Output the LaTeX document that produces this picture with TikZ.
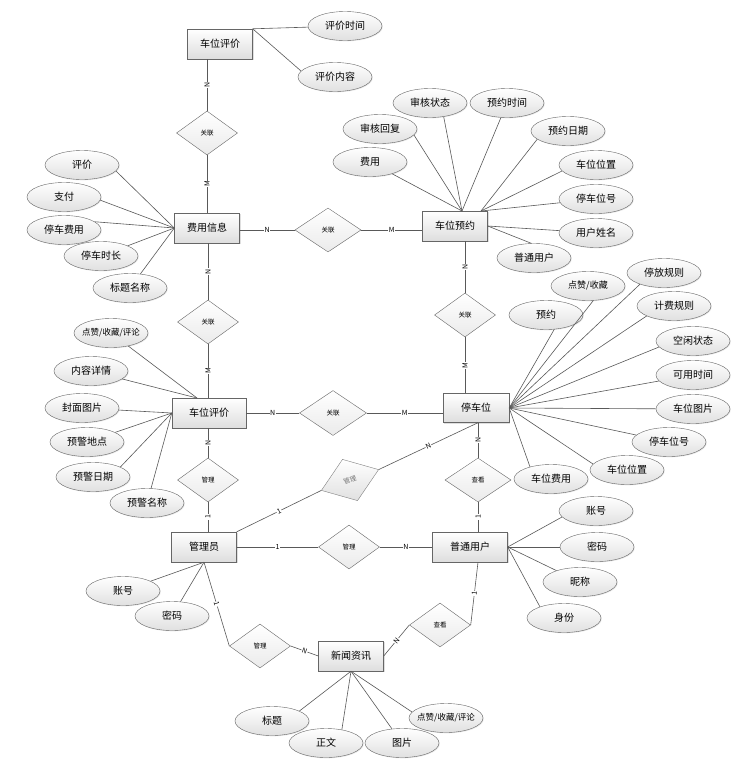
\documentclass[tikz,border=0pt]{standalone}
\usepackage{fontspec}
\setmainfont{Noto Sans CJK SC}
\usetikzlibrary{shapes.geometric, shadows}

\begin{document}
\begin{tikzpicture}[x=1pt, y=-1pt,
	entity/.style={draw=black!60, rectangle, minimum width=65pt, minimum height=30pt, inner sep=1pt,
		top color=white, bottom color=black!13, drop shadow={opacity=0.25, shadow xshift=1.2pt, shadow yshift=-1.2pt},
		font=\fontsize{10}{12}\selectfont},
	attr/.style={draw=black!60, ellipse, minimum width=74pt, minimum height=29pt, inner sep=0pt,
		top color=white, bottom color=black!12, drop shadow={opacity=0.18, shadow xshift=0.8pt, shadow yshift=-0.8pt},
		font=\fontsize{10}{12}\selectfont},
	smallattr/.style={attr, inner xsep=-5pt, font=\fontsize{8.5}{10}\selectfont},
	rel/.style={draw=black!60, diamond, minimum width=61pt, minimum height=44pt, inner sep=0pt,
		top color=white, bottom color=black!8, font=\fontsize{6.5}{7}\selectfont},
	link/.style={draw=black!65, line width=0.6pt},
	card/.style={fill=white, inner sep=0.6pt, font=\fontsize{7}{7}\selectfont},
	vcard/.style={card, rotate=90}]

	\path[fill=white, use as bounding box] (0,0) rectangle (754,777);

	% entities
	\node[entity] (pj1) at (220,44) {车位评价};
	\node[entity] (fy) at (207,228) {费用信息};
	\node[entity] (yy) at (455,226) {车位预约};
	\node[entity, minimum width=74pt] (pj2) at (209,413) {车位评价};
	\node[entity, minimum width=66pt, minimum height=29pt] (tcw) at (476,408) {停车位};
	\node[entity] (gly) at (204,547) {管理员};
	\node[entity, minimum width=75pt] (pt) at (470,547) {普通用户};
	\node[entity] (xw) at (351,656) {新闻资讯};

	% relationships
	\node[rel] (r1) at (207,133) {关联};
	\node[rel, minimum width=66pt] (r2) at (328,230) {关联};
	\node[rel] (r3) at (208,322) {关联};
	\node[rel, minimum width=67pt, minimum height=45pt] (r4) at (333,413) {关联};
	\node[rel] (r5) at (465,315) {关联};
	\node[rel] (r6) at (208,480) {管理};
	\node[rel, minimum width=66pt] (r7) at (478,480) {查看};
	\node[rel, rotate=20, draw=black!50, bottom color=black!12, text=black!55] (r8) at (350,480) {管理};
	\node[rel] (r9) at (349,547) {管理};
	\node[rel] (r10) at (260,646) {管理};
	\node[rel] (r11) at (440,625) {查看};

	% attributes
	\node[attr] (a1) at (345,26) {评价时间};
	\node[attr] (a2) at (335,77) {评价内容};

	\node[attr] (b1) at (82,165) {评价};
	\node[attr] (b2) at (64,197) {支付};
	\node[attr] (b3) at (64,230) {停车费用};
	\node[attr] (b4) at (101,256) {停车时长};
	\node[attr] (b5) at (130,288) {标题名称};

	\node[attr] (c1) at (370,162) {费用};
	\node[attr] (c2) at (380,129) {审核回复};
	\node[attr] (c3) at (430,103) {审核状态};
	\node[attr] (c4) at (507,103) {预约时间};
	\node[attr] (c5) at (568,131) {预约日期};
	\node[attr] (c6) at (596,165) {车位位置};
	\node[attr] (c7) at (596,199) {停车位号};
	\node[attr] (c8) at (596,233) {用户姓名};
	\node[attr] (c9) at (534,258) {普通用户};

	\node[smallattr] (d1) at (111,333) {点赞/收藏/评论};
	\node[attr] (d2) at (91,371) {内容详情};
	\node[attr] (d3) at (82,408) {封面图片};
	\node[attr] (d4) at (87,442) {预警地点};
	\node[attr] (d5) at (93,477) {预警日期};
	\node[attr] (d6) at (147,503) {预警名称};

	\node[attr] (e1) at (546,315) {预约};
	\node[smallattr, font=\fontsize{9}{10}\selectfont] (e2) at (588,286) {点赞/收藏};
	\node[attr] (e3) at (664,273) {停放规则};
	\node[attr] (e4) at (674,306) {计费规则};
	\node[attr] (e5) at (693,341) {空闲状态};
	\node[attr] (e6) at (693,375) {可用时间};
	\node[attr] (e7) at (693,409) {车位图片};
	\node[attr] (e8) at (669,442) {停车位号};
	\node[attr] (e9) at (627,470) {车位位置};
	\node[attr] (e10) at (551,479) {车位费用};

	\node[attr] (f1) at (596,511) {账号};
	\node[attr] (f2) at (597,547) {密码};
	\node[attr] (f3) at (580,582) {昵称};
	\node[attr] (f4) at (564,618) {身份};

	\node[attr] (g1) at (123,591) {账号};
	\node[attr] (g2) at (172,616) {密码};

	\node[attr] (h1) at (272,721) {标题};
	\node[smallattr] (h4) at (446,718) {点赞/收藏/评论};
	\node[attr] (h2) at (326,743) {正文};
	\node[attr] (h3) at (402,743) {图片};

	\coordinate (yyh) at (462,211);
	\coordinate (yyr) at (481,211);
	\coordinate (pjh) at (197,398);

	% relationship lines
	\draw[link] (r1.north) -- node[vcard] {N} (r1.north |- pj1.south);
	\draw[link] (r1.south) -- node[vcard] {M} (r1.south |- fy.north);
	\draw[link] (r2.west -| fy.east) -- node[card] {N} (r2.west);
	\draw[link] (r2.east) -- node[card] {M} (r2.east -| yy.west);
	\draw[link] (r3.north |- fy.south) -- node[vcard] {N} (r3.north);
	\draw[link] (r3.south) -- node[vcard] {M} (r3.south |- pj2.north);
	\draw[link] (pj2.east) -- node[card] {N} (r4.west);
	\draw[link] (r4.east) -- node[card] {M} (r4.east -| tcw.west);
	\draw[link] (r5.north |- yy.south) -- node[vcard] {N} (r5.north);
	\draw[link] (r5.south) -- node[vcard] {M} (r5.south |- tcw.north);
	\draw[link] (r6.north |- pj2.south) -- node[vcard] {N} (r6.north);
	\draw[link] (r6.south) -- node[vcard] {1} (r6.south |- gly.north);
	\draw[link] (r7.north |- tcw.south) -- node[vcard] {N} (r7.north);
	\draw[link] (r7.south) -- node[vcard] {1} (r7.south |- pt.north);
	\draw[link] (gly.north east) -- node[card, sloped] {1} (r8.west);
	\draw[link] (r8.east) -- node[card, sloped] {N} (r7.north |- tcw.south);
	\draw[link] (gly.east) -- node[card] {1} (r9.west);
	\draw[link] (r9.east) -- node[card] {N} (pt.west);
	\draw[link] (gly.south) -- node[card, sloped] {1} (r10.west);
	\draw[link] (r10.east) -- node[card, sloped] {N} (xw.west);
	\draw[link] (xw.east) -- node[card, sloped] {N} (r11.west);
	\draw[link] (r11.east) -- node[card, sloped] {1} (r7.south |- pt.south);

	% attribute lines
	\draw[link] (pj1.north east) -- (a1);
	\draw[link] (pj1.north east) -- (a2.170);

	\draw[link] (fy.west) -- (b1.350);
	\draw[link] (fy.west) -- (b2.355);
	\draw[link] (fy.west) -- (b3.15);
	\draw[link] (fy.west) -- (b4);
	\draw[link] (fy.west) -- (b5);

	\draw[link] (yyh) -- (c1);
	\draw[link] (yyh) -- (c2.350);
	\draw[link] (yyh) -- (c3.315);
	\draw[link] (yyh) -- (c4);
	\draw[link] (yyr) -- (c5.195);
	\draw[link] (yyr) -- (c6.190);
	\draw[link] (yyr) -- (c7);
	\draw[link] (yy.east) -- (c8);
	\draw[link] (yy.east) -- (c9.100);

	\draw[link] (pjh) -- (d1);
	\draw[link] (pjh) -- (d2);
	\draw[link] (pj2.west) -- (d3);
	\draw[link] (pj2.west) -- (d4);
	\draw[link] (pj2.west) -- (d5.20);
	\draw[link] (pj2.west) -- (d6);

	\draw[link] (tcw.east) -- (e1.300);
	\draw[link] (tcw.east) -- (e2.290);
	\draw[link] (tcw.east) -- (e3.205);
	\draw[link] (tcw.east) -- (e4.200);
	\draw[link] (tcw.east) -- (e5.190);
	\draw[link] (tcw.east) -- (e6.190);
	\draw[link] (tcw.east) -- (e7);
	\draw[link] (tcw.east) -- (e8);
	\draw[link] (tcw.east) -- (e9.170);
	\draw[link] (tcw.east) -- (e10.150);

	\draw[link] (pt.east) -- (f1.190);
	\draw[link] (pt.east) -- (f2);
	\draw[link] (pt.east) -- (f3);
	\draw[link] (pt.east) -- (f4.155);

	\draw[link] (gly.south) -- (g1);
	\draw[link] (gly.south) -- (g2);

	\draw[link] (xw.south) -- (h1.20);
	\draw[link] (xw.south) -- (h2.40);
	\draw[link] (xw.south) -- (h3);
	\draw[link] (xw.south) -- (h4.170);
\end{tikzpicture}
\end{document}
